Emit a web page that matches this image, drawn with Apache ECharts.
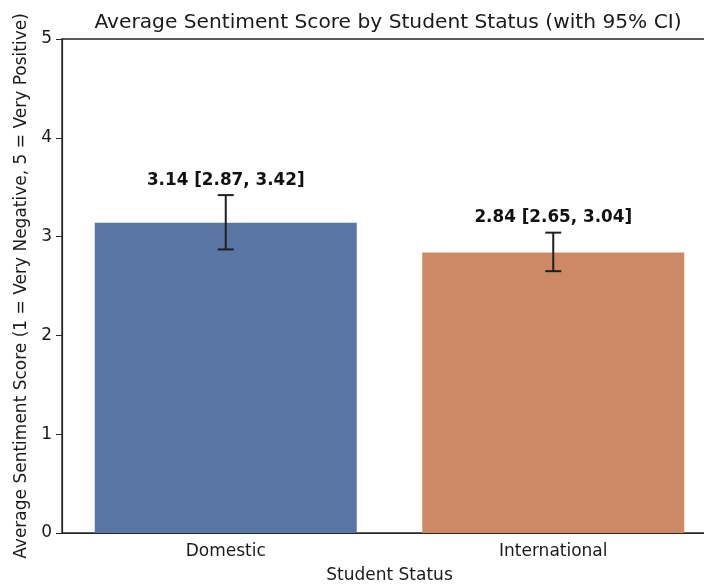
<!DOCTYPE html>
<html>
<head>
<meta charset="utf-8">
<script src="https://cdn.jsdelivr.net/npm/echarts@6/dist/echarts.min.js"></script>
<style>
  html, body { margin: 0; padding: 0; background: #fff; overflow: hidden; width: 704px; height: 585px; }
  #chart { width: 740px; height: 585px; }
</style>
</head>
<body>
<div id="chart"></div>
<script>
// data
var categories = ['Domestic', 'International'];
var meanScore = [3.14, 2.84];
var ciLow = [2.87, 2.65];
var ciHigh = [3.42, 3.04];
var barColors = ['#5975a4', '#cc8963'];
var yTicks = [0, 1, 2, 3, 4, 5];

var font = 'DejaVu Sans';
var myChart = echarts.init(document.getElementById('chart'));

//误差线数据: [类别序号, 下限, 上限, 标签]
var errData = categories.map(function (c, i) {
    return [i, ciLow[i], ciHigh[i], meanScore[i].toFixed(2) + ' [' + ciLow[i].toFixed(2) + ', ' + ciHigh[i].toFixed(2) + ']'];
});

var option = {
    animation: false,
    textStyle: { fontFamily: font },
    title: {
        text: 'Average Sentiment Score by Student Status (with 95% CI)',
        left: 383, top: 8, textAlign: 'center',
        textStyle: { fontFamily: font, fontSize: 20.2, fontWeight: 'normal', color: '#1a1a1a' }
    },
    // 右边框在截图外面
    grid: {
        left: 62, top: 39, width: 655, height: 494,
        outerBoundsMode: 'none', containLabel: false,
        show: true, borderColor: '#262626', borderWidth: 1.4
    },
    xAxis: {
        type: 'category',
        data: categories,
        name: 'Student Status',
        nameLocation: 'middle',
        nameGap: 34,
        nameTextStyle: { fontFamily: font, fontSize: 17, color: '#1a1a1a' },
        axisLine: { lineStyle: { color: '#262626', width: 1.2 } },
        axisTick: { alignWithLabel: true, length: 6, lineStyle: { color: '#262626' } },
        axisLabel: { fontFamily: font, fontSize: 17, color: '#1a1a1a', margin: 10 }
    },
    yAxis: {
        type: 'value',
        min: yTicks[0], max: yTicks[yTicks.length - 1], interval: 1,
        name: 'Average Sentiment Score (1 = Very Negative, 5 = Very Positive)',
        nameLocation: 'middle',
        nameGap: 31,
        nameTextStyle: { fontFamily: font, fontSize: 17, color: '#1a1a1a' },
        axisLine: { show: true, lineStyle: { color: '#262626', width: 1.2 } },
        axisTick: { show: true, length: 6, lineStyle: { color: '#262626' } },
        axisLabel: { fontFamily: font, fontSize: 17, color: '#1a1a1a', margin: 10 },
        splitLine: { show: false }
    },
    series: [
        {
            type: 'bar',
            barWidth: '80%',
            data: meanScore.map(function (v, i) {
                return { value: v, itemStyle: { color: barColors[i] } };
            })
        },
        {
            type: 'custom',
            data: errData,
            z: 10,
            renderItem: function (params, api) {
                var x = api.value(0);
                var lo = api.coord([x, api.value(1)]);
                var hi = api.coord([x, api.value(2)]);
                var cap = 8;
                var st = { stroke: '#1f1f1f', lineWidth: 2 };
                return {
                    type: 'group',
                    children: [
                        { type: 'line', shape: { x1: lo[0], y1: lo[1], x2: hi[0], y2: hi[1] }, style: st },
                        { type: 'line', shape: { x1: lo[0] - cap, y1: lo[1], x2: lo[0] + cap, y2: lo[1] }, style: st },
                        { type: 'line', shape: { x1: hi[0] - cap, y1: hi[1], x2: hi[0] + cap, y2: hi[1] }, style: st },
                        {
                            type: 'text',
                            style: {
                                x: hi[0], y: hi[1] - 6,
                                text: errData[params.dataIndex][3],
                                textAlign: 'center', textVerticalAlign: 'bottom',
                                font: 'bold 16.8px "DejaVu Sans"', fill: '#111'
                            }
                        }
                    ]
                };
            }
        }
    ]
};

myChart.setOption(option);
</script>
</body>
</html>
